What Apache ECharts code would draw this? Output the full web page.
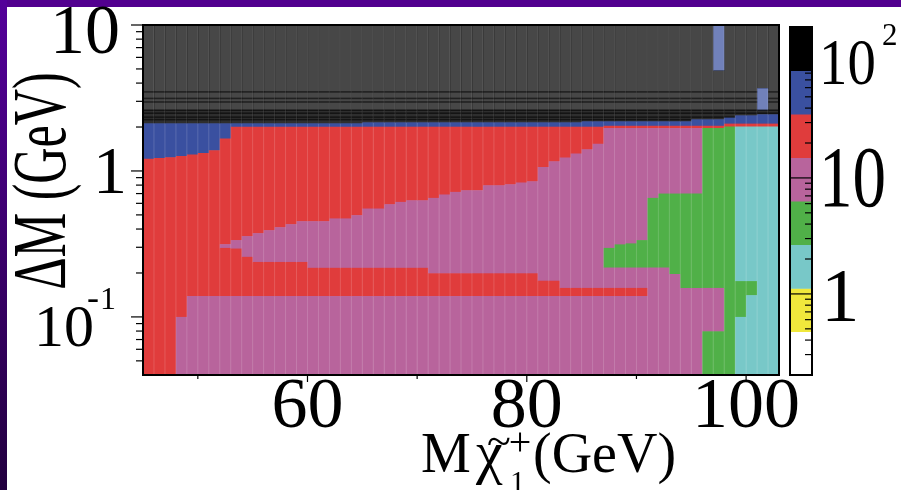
<!DOCTYPE html>
<html>
<head>
<meta charset="utf-8">
<script src="https://cdn.jsdelivr.net/npm/echarts@6/dist/echarts.min.js"></script>
<style>
  html, body { margin: 0; padding: 0; background: #ffffff; }
  #chart { width: 901px; height: 490px; }
</style>
</head>
<body>
<div id="chart"></div>
<script>
// Chargino mass bin edges (GeV)
const massEdges = [45, 46, 47, 48, 49, 50, 51, 52, 53, 54, 55, 56, 57, 58, 59, 60,
  61, 62, 63, 64, 65, 66, 67, 68, 69, 70, 71, 72, 73, 74, 75, 76, 77, 78, 79, 80,
  81, 82, 83, 84, 85, 86, 87, 88, 89, 90, 91, 92, 93, 94, 95, 96, 97, 98, 99, 100,
  101, 102, 103];

// Contour levels of the z scale and the colour of each band
const contourLevels = [0.2, 0.474, 1.12, 2.67, 6.32, 15.0, 35.6, 84.3, 200];
const levelColors = ['#ffffff', '#f0e83c', '#78c8c8', '#50b048', '#b8649c', '#e03c3c', '#3a50a0', '#000000'];

// z value carried by each named band
const bandZ = { W: 0.31, Y: 0.73, C: 1.73, G: 4.11, P: 9.75, R: 23.1, B: 54.8, K: 130 };

// One entry per mass bin: band, lower ΔM edge, band, lower ΔM edge, ... starting at ΔM = 10
const columns = [
  ['K', 2.12, 'B', 1.212, 'R', 0.04],
  ['K', 2.12, 'B', 1.227, 'R', 0.04],
  ['K', 2.12, 'B', 1.241, 'R', 0.04],
  ['K', 2.12, 'B', 1.266, 'R', 0.1, 'P', 0.04],
  ['K', 2.12, 'B', 1.295, 'R', 0.139, 'P', 0.04],
  ['K', 2.12, 'B', 1.328, 'R', 0.139, 'P', 0.04],
  ['K', 2.12, 'B', 1.386, 'R', 0.139, 'P', 0.04],
  ['K', 2.12, 'B', 1.666, 'R', 0.315, 'P', 0.297, 'R', 0.139, 'P', 0.04],
  ['K', 2.12, 'B', 2.01, 'R', 0.336, 'P', 0.294, 'R', 0.139, 'P', 0.04],
  ['K', 2.12, 'B', 2.01, 'R', 0.358, 'P', 0.258, 'R', 0.139, 'P', 0.04],
  ['K', 2.12, 'B', 2.01, 'R', 0.375, 'P', 0.238, 'R', 0.139, 'P', 0.04],
  ['K', 2.12, 'B', 2.01, 'R', 0.393, 'P', 0.238, 'R', 0.139, 'P', 0.04],
  ['K', 2.12, 'B', 2.01, 'R', 0.412, 'P', 0.238, 'R', 0.139, 'P', 0.04],
  ['K', 2.12, 'B', 2.01, 'R', 0.432, 'P', 0.238, 'R', 0.139, 'P', 0.04],
  ['K', 2.12, 'B', 2.01, 'R', 0.453, 'P', 0.238, 'R', 0.139, 'P', 0.04],
  ['K', 2.12, 'B', 2.01, 'R', 0.453, 'P', 0.217, 'R', 0.139, 'P', 0.04],
  ['K', 2.12, 'B', 2.01, 'R', 0.453, 'P', 0.217, 'R', 0.139, 'P', 0.04],
  ['K', 2.12, 'B', 2.01, 'R', 0.473, 'P', 0.217, 'R', 0.139, 'P', 0.04],
  ['K', 2.12, 'B', 2.01, 'R', 0.473, 'P', 0.217, 'R', 0.139, 'P', 0.04],
  ['K', 2.12, 'B', 2.01, 'R', 0.498, 'P', 0.217, 'R', 0.139, 'P', 0.04],
  ['K', 2.153, 'B', 2.01, 'R', 0.553, 'P', 0.217, 'R', 0.139, 'P', 0.04],
  ['K', 2.153, 'B', 2.01, 'R', 0.553, 'P', 0.217, 'R', 0.139, 'P', 0.04],
  ['K', 2.153, 'B', 2.01, 'R', 0.592, 'P', 0.217, 'R', 0.139, 'P', 0.04],
  ['K', 2.153, 'B', 2.01, 'R', 0.614, 'P', 0.217, 'R', 0.139, 'P', 0.04],
  ['K', 2.153, 'B', 2.01, 'R', 0.63, 'P', 0.217, 'R', 0.139, 'P', 0.04],
  ['K', 2.153, 'B', 2.01, 'R', 0.63, 'P', 0.217, 'R', 0.139, 'P', 0.04],
  ['K', 2.153, 'B', 2.01, 'R', 0.654, 'P', 0.199, 'R', 0.139, 'P', 0.04],
  ['K', 2.153, 'B', 2.01, 'R', 0.69, 'P', 0.199, 'R', 0.139, 'P', 0.04],
  ['K', 2.153, 'B', 2.01, 'R', 0.719, 'P', 0.199, 'R', 0.139, 'P', 0.04],
  ['K', 2.153, 'B', 2.01, 'R', 0.738, 'P', 0.199, 'R', 0.139, 'P', 0.04],
  ['K', 2.153, 'B', 2.01, 'R', 0.738, 'P', 0.199, 'R', 0.139, 'P', 0.04],
  ['K', 2.153, 'B', 2.01, 'R', 0.798, 'P', 0.199, 'R', 0.139, 'P', 0.04],
  ['K', 2.153, 'B', 2.01, 'R', 0.798, 'P', 0.199, 'R', 0.139, 'P', 0.04],
  ['K', 2.153, 'B', 2.01, 'R', 0.811, 'P', 0.199, 'R', 0.139, 'P', 0.04],
  ['K', 2.153, 'B', 2.01, 'R', 0.833, 'P', 0.199, 'R', 0.139, 'P', 0.04],
  ['K', 2.153, 'B', 2.01, 'R', 0.85, 'P', 0.199, 'R', 0.139, 'P', 0.04],
  ['K', 2.153, 'B', 2.01, 'R', 1.065, 'P', 0.177, 'R', 0.139, 'P', 0.04],
  ['K', 2.153, 'B', 2.01, 'R', 1.165, 'P', 0.177, 'R', 0.139, 'P', 0.04],
  ['K', 2.153, 'B', 2.01, 'R', 1.235, 'P', 0.158, 'R', 0.139, 'P', 0.04],
  ['K', 2.153, 'B', 2.01, 'R', 1.315, 'P', 0.158, 'R', 0.139, 'P', 0.04],
  ['K', 2.188, 'B', 2.01, 'R', 1.407, 'P', 0.158, 'R', 0.139, 'P', 0.04],
  ['K', 2.188, 'B', 2.01, 'R', 1.539, 'P', 0.158, 'R', 0.139, 'P', 0.04],
  ['K', 2.188, 'B', 2.04, 'R', 1.968, 'P', 0.297, 'G', 0.218, 'P', 0.158, 'R', 0.139, 'P', 0.04],
  ['K', 2.188, 'B', 2.04, 'R', 1.968, 'P', 0.314, 'G', 0.218, 'P', 0.158, 'R', 0.139, 'P', 0.04],
  ['K', 2.188, 'B', 2.04, 'R', 1.968, 'P', 0.319, 'G', 0.218, 'P', 0.158, 'R', 0.139, 'P', 0.04],
  ['K', 2.188, 'B', 2.04, 'R', 1.968, 'P', 0.336, 'G', 0.218, 'P', 0.158, 'R', 0.139, 'P', 0.04],
  ['K', 2.188, 'B', 2.04, 'R', 1.968, 'P', 0.654, 'G', 0.218, 'P', 0.04],
  ['K', 2.188, 'B', 2.04, 'R', 1.968, 'P', 0.7, 'G', 0.218, 'P', 0.04],
  ['K', 2.188, 'B', 2.04, 'R', 1.968, 'P', 0.7, 'G', 0.197, 'P', 0.04],
  ['K', 2.188, 'B', 2.04, 'R', 1.968, 'P', 0.7, 'G', 0.158, 'P', 0.04],
  ['K', 2.258, 'B', 2.04, 'R', 1.968, 'P', 0.7, 'G', 0.158, 'P', 0.04],
  ['K', 2.258, 'B', 2.04, 'R', 1.968, 'G', 0.158, 'P', 0.0797, 'G', 0.04],
  ['B', 4.885, 'K', 2.258, 'B', 2.04, 'R', 1.968, 'G', 0.158, 'P', 0.0797, 'G', 0.04],
  ['K', 2.319, 'B', 2.11, 'R', 2.02, 'G', 0.04],
  ['K', 2.404, 'B', 2.11, 'R', 2.02, 'C', 0.176, 'G', 0.1, 'C', 0.04],
  ['K', 2.404, 'B', 2.11, 'R', 2.02, 'C', 0.176, 'G', 0.141, 'C', 0.04],
  ['K', 3.696, 'B', 2.601, 'K', 2.443, 'B', 2.11, 'R', 2.02, 'C', 0.04],
  ['K', 2.443, 'B', 2.11, 'R', 2.02, 'C', 0.04]
];

// Tick positions
const xMajorTicks = [60, 80, 100];
const xMinorTicks = [50, 70, 90];
const yMajorTicks = [0.1, 1, 10];
const yMinorTicks = [0.05, 0.06, 0.07, 0.08, 0.09, 0.2, 0.3, 0.4, 0.5, 0.6, 0.7, 0.8, 0.9,
  2, 3, 4, 5, 6, 7, 8, 9];
const zMajorTicks = [1, 10, 100];
const zMinorTicks = [0.3, 0.4, 0.5, 0.6, 0.7, 0.8, 0.9, 2, 3, 4, 5, 6, 7, 8, 9,
  20, 30, 40, 50, 60, 70, 80, 90, 200];

// Tick labels
const xTickLabels = ['60', '80', '100'];

// Shading of the region above the band edge
const hazeAbove = 2.5;
const darkBand = [2.1, 2.62];
const darkLines = [3.47, 3.13, 2.96, 2.6, 2.48, 2.33, 2.24];

const SERIF = '"Liberation Serif", "Times New Roman", serif';

function levelIndex(z) {
  for (let k = 0; k < levelColors.length; k++) {
    if (z >= contourLevels[k] && z < contourLevels[k + 1]) return k;
  }
  return z < contourLevels[0] ? 0 : levelColors.length - 1;
}

// Flatten the column description into rectangular cells
const cells = [];
columns.forEach(function (segs, i) {
  let top = 10;
  for (let j = 0; j < segs.length; j += 2) {
    const bottom = segs[j + 1];
    cells.push([massEdges[i], massEdges[i + 1], top, bottom, bandZ[segs[j]]]);
    top = bottom;
  }
});

const barCells = [];
for (let k = 0; k < levelColors.length; k++) {
  barCells.push([0, 1, contourLevels[k + 1], contourLevels[k], Math.sqrt(contourLevels[k] * contourLevels[k + 1])]);
}

function renderCell(params, api) {
  const x0 = api.value(0), x1 = api.value(1), yTop = api.value(2), yBot = api.value(3), z = api.value(4);
  const p0 = api.coord([x0, yTop]);
  const p1 = api.coord([x1, yBot]);
  const k = levelIndex(z);
  const hazed = yTop > hazeAbove;
  const w = p1[0] - p0[0] + 0.6;
  const children = [{
    type: 'rect',
    shape: { x: p0[0], y: p0[1], width: w, height: p1[1] - p0[1] + 0.6 },
    style: { fill: levelColors[k], opacity: hazed ? 0.72 : 1 }
  }];
  if (k === levelColors.length - 1) {
    const lo = Math.max(yBot, darkBand[0]), hi = Math.min(yTop, darkBand[1]);
    if (hi > lo) {
      const a = api.coord([x0, hi]), b = api.coord([x0, lo]);
      children.push({ type: 'rect', shape: { x: p0[0], y: a[1], width: w, height: b[1] - a[1] },
        style: { fill: 'rgba(0,0,0,0.35)' } });
    }
    darkLines.forEach(function (v) {
      if (v < yTop && v > yBot) {
        const py = api.coord([x0, v])[1];
        children.push({ type: 'rect', shape: { x: p0[0], y: py - 1, width: w, height: 1.6 },
          style: { fill: 'rgba(0,0,0,0.55)' } });
      }
    });
  }
  return { type: 'group', children: children };
}

function renderBarCell(params, api) {
  const p0 = api.coord([api.value(0), api.value(2)]);
  const p1 = api.coord([api.value(1), api.value(3)]);
  return {
    type: 'rect',
    shape: { x: p0[0], y: p0[1], width: p1[0] - p0[0], height: p1[1] - p0[1] + 0.5 },
    style: { fill: levelColors[levelIndex(api.value(4))] }
  };
}

function renderTick(params, api) {
  const p = api.coord([api.value(0), api.value(1)]);
  const len = api.value(2);
  const down = api.value(3) === 1;
  return {
    type: 'line',
    shape: down ? { x1: p[0], y1: p[1], x2: p[0], y2: p[1] + len }
                : { x1: p[0] - len, y1: p[1], x2: p[0], y2: p[1] },
    style: { stroke: '#000', lineWidth: 1.2 }
  };
}

const mainTicks = []
  .concat(xMajorTicks.map(v => [v, 0.04, 7, 1]))
  .concat(xMinorTicks.map(v => [v, 0.04, 4, 1]))
  .concat(yMajorTicks.map(v => [45, v, 12, 0]))
  .concat(yMinorTicks.map(v => [45, v, 7, 0]));
const barTicks = []
  .concat(zMajorTicks.map(v => [1, v, 22, 0]))
  .concat(zMinorTicks.map(v => [1, v, 7, 0]));

const columnEdges = massEdges.slice(1, -1).map(m => [m, 1]);

const chart = echarts.init(document.getElementById('chart'), null, { renderer: 'canvas' });

const hidden = { axisLine: { show: false }, axisTick: { show: false }, axisLabel: { show: false }, splitLine: { show: false } };

chart.setOption({
  animation: false,
  backgroundColor: '#ffffff',
  grid: [
    { left: 143, top: 25, width: 636, height: 350 },
    { left: 790, top: 27, width: 22, height: 348 }
  ],
  xAxis: [
    Object.assign({ type: 'value', gridIndex: 0, min: 45, max: 103 }, hidden),
    Object.assign({ type: 'value', gridIndex: 1, min: 0, max: 1 }, hidden)
  ],
  yAxis: [
    Object.assign({ type: 'log', logBase: 10, gridIndex: 0, min: 0.04, max: 10 }, hidden),
    Object.assign({ type: 'log', logBase: 10, gridIndex: 1, min: 0.2, max: 200 }, hidden)
  ],
  series: [
    { type: 'custom', name: 'cells', xAxisIndex: 0, yAxisIndex: 0, data: cells,
      encode: { x: [0, 1], y: [2, 3] }, renderItem: renderCell, z: 2, silent: true },
    { type: 'custom', name: 'bin edges', xAxisIndex: 0, yAxisIndex: 0, data: columnEdges,
      encode: { x: 0, y: 1 }, z: 3, silent: true,
      renderItem: function (params, api) {
        const a = api.coord([api.value(0), 10]), b = api.coord([api.value(0), 0.04]);
        return { type: 'line', shape: { x1: a[0], y1: a[1], x2: b[0], y2: b[1] },
          style: { stroke: 'rgba(255,255,255,0.16)', lineWidth: 1 } };
      } },
    { type: 'custom', name: 'axis ticks', xAxisIndex: 0, yAxisIndex: 0, data: mainTicks,
      encode: { x: 0, y: 1 }, renderItem: renderTick, clip: false, z: 5, silent: true },
    { type: 'custom', name: 'palette', xAxisIndex: 1, yAxisIndex: 1, data: barCells,
      encode: { x: [0, 1], y: [2, 3] }, renderItem: renderBarCell, z: 2, silent: true },
    { type: 'custom', name: 'palette ticks', xAxisIndex: 1, yAxisIndex: 1, data: barTicks,
      encode: { x: 0, y: 1 }, renderItem: renderTick, clip: false, z: 5, silent: true }
  ]
});

// Frames, tick labels and titles
const px = (g, pt) => chart.convertToPixel({ gridIndex: g }, pt);
const g = [];

g.push({ type: 'rect', shape: { x: 0, y: 0, width: 901, height: 7 }, style: { fill: '#52008f' }, z: 50 });
g.push({ type: 'rect', shape: { x: 0, y: 0, width: 7, height: 490 }, z: 50,
  style: { fill: new echarts.graphic.LinearGradient(0, 0, 0, 1, [
    { offset: 0, color: '#54009a' }, { offset: 1, color: '#22003f' }]) } });

const tl = px(0, [45, 10]), br = px(0, [103, 0.04]);
g.push({ type: 'rect', shape: { x: tl[0], y: tl[1], width: br[0] - tl[0], height: br[1] - tl[1] },
  style: { fill: 'none', stroke: '#000', lineWidth: 2 }, z: 60 });
const ctl = px(1, [0, 200]), cbr = px(1, [1, 0.2]);
g.push({ type: 'rect', shape: { x: ctl[0], y: ctl[1], width: cbr[0] - ctl[0], height: cbr[1] - ctl[1] },
  style: { fill: 'none', stroke: '#000', lineWidth: 2 }, z: 60 });

function txt(x, y, text, size, opts) {
  const o = opts || {};
  return {
    type: 'text', x: x, y: y, z: 70, rotation: o.rotation || 0,
    scaleX: o.scaleX || 1, scaleY: o.scaleY || 1,
    style: { text: text, font: size + 'px ' + SERIF, fill: '#000',
      align: o.align || 'left', verticalAlign: o.valign || 'middle' }
  };
}

// x tick labels
xMajorTicks.forEach(function (v, i) {
  const p = px(0, [v, 0.04]);
  g.push(txt(p[0], p[1] + 33, xTickLabels[i], 72, { align: 'center' }));
});

// y tick labels
(function () {
  const p10 = px(0, [45, 10]);
  g.push(txt(p10[0] - 23, p10[1] + 10, '10', 70, { align: 'right' }));
  const p1 = px(0, [45, 1]);
  g.push(txt(p1[0] - 16, p1[1] + 4, '1', 68, { align: 'right' }));
  const pm = px(0, [45, 0.1]);
  g.push(txt(pm[0] - 49, pm[1] + 13, '10', 60, { align: 'right' }));
  g.push(txt(pm[0] - 56, pm[1] - 17, '-', 36, { align: 'left' }));
  g.push(txt(pm[0] - 43, pm[1] - 16, '1', 32, { align: 'left' }));
})();

// palette labels
(function () {
  const p100 = px(1, [1, 100]);
  g.push(txt(p100[0] + 7, p100[1] + 5, '10', 66, { scaleX: 0.86 }));
  g.push(txt(p100[0] + 70, p100[1] - 25, '2', 31));
  const p10 = px(1, [1, 10]);
  g.push(txt(p10[0] + 7, p10[1] + 6, '10', 86, { scaleX: 0.78 }));
  const p1 = px(1, [1, 1]);
  g.push(txt(p1[0] + 9, p1[1] + 7, '1', 77));
})();

// axis titles
g.push(txt(45, 181, 'ΔM (GeV)', 76, { align: 'center', rotation: Math.PI / 2, scaleX: 0.66 }));
g.push(txt(421, 457, 'M', 56));
g.push(txt(476, 456, 'χ', 60));
g.push(txt(499, 444, '~', 44, { align: 'center' }));
g.push(txt(520, 444.5, '+', 40, { align: 'center' }));
g.push(txt(510, 483, '1', 30));
g.push(txt(533, 457, '(GeV)', 56));

chart.setOption({ graphic: g });
</script>
</body>
</html>
